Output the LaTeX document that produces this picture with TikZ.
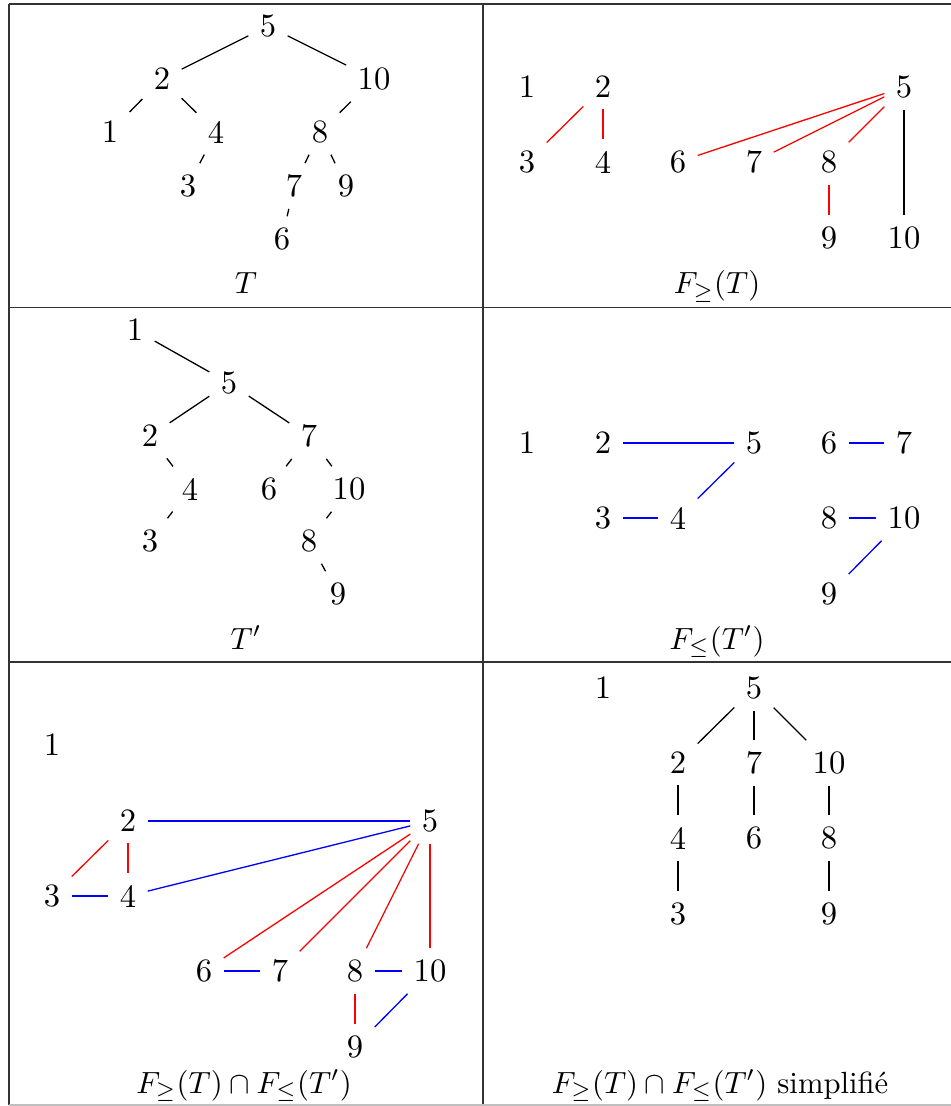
\documentclass[tikz,border=0pt]{standalone}
\usepackage{graphicx}
\usepackage{fontspec}
\newcommand{\lbl}[1]{\scalebox{0.94}{#1}}
\begin{document}
\begin{tikzpicture}[x=0.3067pt,y=-0.3067pt,
  v/.style={inner sep=.3333em},
  rule/.style={line width=0.45pt, black!80},
  edge/.style={line width=0.4pt},
  re/.style={edge, red},
  be/.style={edge, blue},
  lab/.style={anchor=base, inner sep=0pt}]
\useasboundingbox (0,0) rectangle (950,1106);
% table rules
\draw[rule] (9,4) -- (953,4);
\draw[rule] (9,4) -- (9,1105);
\draw[rule] (483,4) -- (483,1105);
\draw[rule] (9,307.5) -- (953,307.5);
\draw[rule] (9,662) -- (953,662);
\draw[rule, black!25] (9,1105) -- (953,1105);

% Panel A: T
\node[v] (A5) at (268,26) {5};
\node[v] (A2) at (162,79) {2};
\node[v] (A10) at (374,79) {10};
\node[v] (A1) at (110,132) {1};
\node[v] (A4) at (216,132) {4};
\node[v] (A8) at (320,132) {8};
\node[v] (A3) at (188,186) {3};
\node[v] (A7) at (294,186) {7};
\node[v] (A9) at (346,186) {9};
\node[v] (A6) at (282,239) {6};
\draw[edge] (A5) -- (A2);
\draw[edge] (A5) -- (A10);
\draw[edge] (A2) -- (A1);
\draw[edge] (A2) -- (A4);
\draw[edge] (A4) -- (A3);
\draw[edge] (A10) -- (A8);
\draw[edge] (A8) -- (A7);
\draw[edge] (A8) -- (A9);
\draw[edge] (A7) -- (A6);
\node[lab] (LA) at (246,294) {\lbl{$T$}};

% Panel B: F>=(T)
\node[v] (B1) at (527,87) {1};
\node[v] (B2) at (603,87) {2};
\node[v] (B5) at (904,87) {5};
\node[v] (B3) at (527,162) {3};
\node[v] (B4) at (603,162) {4};
\node[v] (B6) at (678,162) {6};
\node[v] (B7) at (754,162) {7};
\node[v] (B8) at (829,162) {8};
\node[v] (B9) at (829,238) {9};
\node[v] (B10) at (904,238) {10};
\draw[re] (B2) -- (B3);
\draw[re] (B2) -- (B4);
\draw[re] (B5) -- (B6);
\draw[re] (B5) -- (B7);
\draw[re] (B5) -- (B8);
\draw[re] (B8) -- (B9);
\draw[edge] (B5) -- (B10);
\node[lab] (LB) at (717,294) {\lbl{$F_{\geq}(T)$}};

% Panel C: T'
\node[v] (C1) at (135,330) {1};
\node[v] (C5) at (229,383) {5};
\node[v] (C2) at (150,436) {2};
\node[v] (C7) at (309,436) {7};
\node[v] (C4) at (190,489) {4};
\node[v] (C6) at (269,489) {6};
\node[v] (C10) at (349,489) {10};
\node[v] (C3) at (150,541) {3};
\node[v] (C8) at (309,541) {8};
\node[v] (C9) at (338,594) {9};
\draw[edge] (C1) -- (C5);
\draw[edge] (C5) -- (C2);
\draw[edge] (C5) -- (C7);
\draw[edge] (C2) -- (C4);
\draw[edge] (C4) -- (C3);
\draw[edge] (C7) -- (C6);
\draw[edge] (C7) -- (C10);
\draw[edge] (C10) -- (C8);
\draw[edge] (C8) -- (C9);
\node[lab] (LC) at (246,649) {\lbl{$T'$}};

% Panel D: F<=(T')
\node[v] (D1) at (527,443) {1};
\node[v] (D2) at (603,443) {2};
\node[v] (D5) at (754,443) {5};
\node[v] (D6) at (829,443) {6};
\node[v] (D7) at (904,443) {7};
\node[v] (D3) at (603,518) {3};
\node[v] (D4) at (678,518) {4};
\node[v] (D8) at (829,518) {8};
\node[v] (D10) at (904,518) {10};
\node[v] (D9) at (829,594) {9};
\draw[be] (D2) -- (D5);
\draw[be] (D5) -- (D4);
\draw[be] (D3) -- (D4);
\draw[be] (D6) -- (D7);
\draw[be] (D8) -- (D10);
\draw[be] (D10) -- (D9);
\node[lab] (LD) at (717,649) {\lbl{$F_{\leq}(T')$}};

% Panel E: intersection
\node[v] (E1) at (52,745) {1};
\node[v] (E2) at (128,821) {2};
\node[v] (E5) at (430,821) {5};
\node[v] (E3) at (52,896) {3};
\node[v] (E4) at (128,896) {4};
\node[v] (E6) at (204,971) {6};
\node[v] (E7) at (280,971) {7};
\node[v] (E8) at (355,971) {8};
\node[v] (E10) at (430,971) {10};
\node[v] (E9) at (355,1047) {9};
\draw[re] (E2) -- (E3);
\draw[re] (E2) -- (E4);
\draw[re] (E5) -- (E6);
\draw[re] (E5) -- (E7);
\draw[re] (E5) -- (E8);
\draw[re] (E5) -- (E10);
\draw[re] (E8) -- (E9);
\draw[be] (E2) -- (E5);
\draw[be] (E5) -- (E4);
\draw[be] (E3) -- (E4);
\draw[be] (E6) -- (E7);
\draw[be] (E8) -- (E10);
\draw[be] (E10) -- (E9);
\node[lab] (LE) at (244,1093) {\lbl{$F_{\geq}(T)\cap F_{\leq}(T')$}};

% Panel F: simplified
\node[v] (F1) at (603,688) {1};
\node[v] (F5) at (754,688) {5};
\node[v] (F2) at (678,763) {2};
\node[v] (F7) at (754,763) {7};
\node[v] (F10) at (829,763) {10};
\node[v] (F4) at (678,838) {4};
\node[v] (F6) at (754,838) {6};
\node[v] (F8) at (829,838) {8};
\node[v] (F3) at (678,914) {3};
\node[v] (F9) at (829,914) {9};
\draw[edge] (F5) -- (F2);
\draw[edge] (F5) -- (F7);
\draw[edge] (F5) -- (F10);
\draw[edge] (F2) -- (F4);
\draw[edge] (F4) -- (F3);
\draw[edge] (F7) -- (F6);
\draw[edge] (F10) -- (F8);
\draw[edge] (F8) -- (F9);
\node[lab] (LF) at (720,1093) {\lbl{$F_{\geq}(T)\cap F_{\leq}(T')$ simplifié}};
\end{tikzpicture}
\end{document}
